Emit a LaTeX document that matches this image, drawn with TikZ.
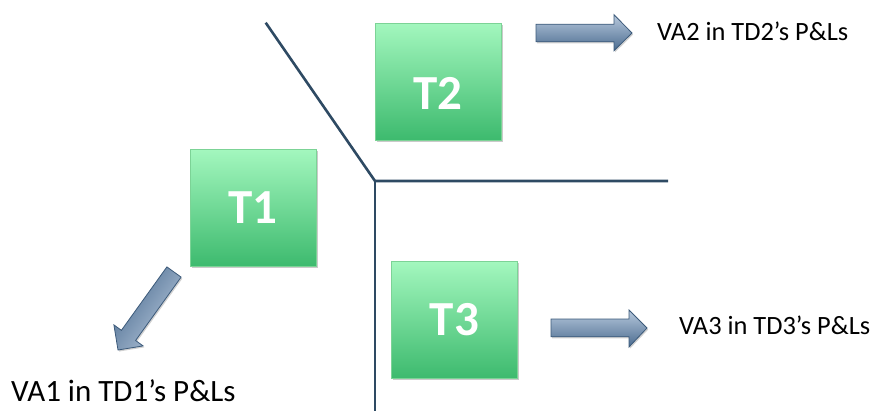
\documentclass[tikz,border=0pt]{standalone}
\usepackage{fontspec}
\setmainfont{Carlito}
\usetikzlibrary{shadows}
\definecolor{gtop}{HTML}{A3F7BE}
\definecolor{gbot}{HTML}{3DBA6E}
\definecolor{gbor}{HTML}{7CD396}
\definecolor{atop}{HTML}{B8C9DD}
\definecolor{abot}{HTML}{4A6B8F}
\definecolor{abor}{HTML}{3C5A7A}
\definecolor{lcol}{HTML}{2E4A63}
\begin{document}
\begin{tikzpicture}[x=1pt,y=-1pt,
  tbox/.style={draw=gbor, line width=0.8pt, top color=gtop, bottom color=gbot,
    minimum width=126pt, minimum height=117pt, inner sep=0pt,
    font=\fontsize{49}{49}\selectfont\bfseries, text=white,
    drop shadow={shadow xshift=1.5pt, shadow yshift=-1.5pt, opacity=0.35, fill=black!60}},
  divider/.style={draw=lcol, line width=2.6pt},
  blockarrow/.style={draw=abor, line width=0.8pt, line join=miter,
    drop shadow={shadow xshift=1.2pt, shadow yshift=-1.5pt, opacity=0.3, fill=black!60}},
  lbl/.style={anchor=base west, inner sep=0pt, text=black}]
\useasboundingbox (0,0) rectangle (877,410);

% dividing lines
\coordinate (dtop) at (265.7,22.7);
\coordinate (dmid) at (375,181);
\coordinate (dright) at (668,181);
\coordinate (dbot) at (375,412);
\draw[divider, line join=miter] (dtop) -- (dmid) -- (dright);
\draw[divider] (dmid) -- (dbot);

% boxes
\node[tbox] (t1) at (253,208) {T1};
\node[tbox, text height=55.6pt, text depth=0pt] (t2) at (438,81.5) {T2};
\node[tbox] (t3) at (454.5,320) {T3};

% block arrows
\shade[blockarrow, top color=atop, bottom color=abot]
  (536,24.2) -- (614,24.2) -- (614,14.7) -- (632,33) -- (614,50.7) -- (614,41.8) -- (536,41.8) -- cycle;
\shade[blockarrow, top color=atop, bottom color=abot]
  (551,319) -- (629,319) -- (629,310) -- (647,328) -- (629,347) -- (629,336.8) -- (551,336.8) -- cycle;
\shade[blockarrow, shading=axis, top color=atop, bottom color=abot, shading angle=-125.7]
  (166.9,266.9) -- (181.1,277.1) -- (135.6,340.5) -- (143.1,345.9) -- (118,350)
  -- (113.9,324.9) -- (121.4,330.3) -- cycle;

% labels
\node[lbl, font=\fontsize{26.4}{26.4}\selectfont] (va2) at (657,40) {VA2 in TD2’s P\&Ls};
\node[lbl, font=\fontsize{26.4}{26.4}\selectfont] (va3) at (679,334) {VA3 in TD3’s P\&Ls};
\node[lbl, font=\fontsize{31}{31}\selectfont] (va1) at (11,401.7) {VA1 in TD1’s P\&Ls};
\end{tikzpicture}
\end{document}
